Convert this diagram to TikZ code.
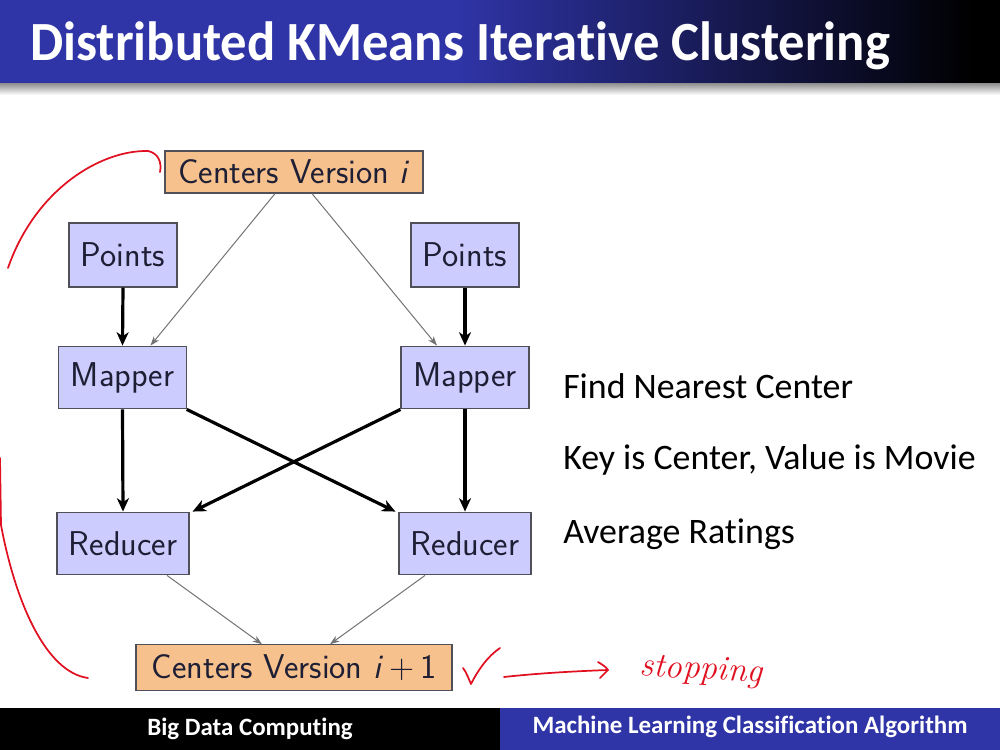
\documentclass[tikz,border=0pt]{standalone}
\usepackage{fontspec}
\newfontfamily\carlito[Ligatures=NoCommon]{Carlito}
\usetikzlibrary{arrows.meta,calc}
\definecolor{barblue}{HTML}{2F34A6}
\definecolor{boxblue}{HTML}{CCCCFF}
\definecolor{boxorange}{HTML}{F6C18D}
\definecolor{boxline}{HTML}{505058}
\definecolor{boxtext}{HTML}{1E1E34}
\definecolor{ink}{HTML}{E01020}
\begin{document}
\begin{tikzpicture}[x=0.75pt,y=-0.75pt,
  box/.style={draw=boxline,line width=0.9pt,fill=boxblue,inner sep=0pt,font=\sffamily\fontsize{25.8}{30}\selectfont,text=boxtext},
  cbox/.style={box,fill=boxorange},
  thin/.style={draw=black!55,line width=0.75pt,-{Stealth[length=7pt,width=5pt,inset=2pt]}},
  thick/.style={draw=black,line width=2.4pt,-{Stealth[length=10pt,width=9pt,inset=3pt]}},
  rtext/.style={anchor=west,inner sep=0pt,font=\carlito\fontsize{26.9}{32}\selectfont},
  foot/.style={text=white,inner sep=0pt,font=\carlito\bfseries\fontsize{18.7}{22}\selectfont},
  redpen/.style={draw=ink,line width=1.3pt,line cap=round,line join=round}]
\useasboundingbox (0,0) rectangle (1000,750);
% title bar
\fill[barblue] (0,0) rectangle (460,83);
\shade[left color=barblue,right color=black] (459,0) rectangle (975,83);
\fill[black] (974,0) rectangle (1000,83);
\shade[top color=black!45,bottom color=white] (0,83) rectangle (1000,95);
\node[anchor=base west,inner sep=0pt,text=white,yscale=1.05,font=\carlito\bfseries\fontsize{39.5}{46}\selectfont] (title) at (30,60) {Distributed KMeans Iterative Clustering};
% footer
\fill[black] (0,708) rectangle (500,750);
\fill[barblue] (500,708) rectangle (1000,750);
\node[foot] (f1) at (250,729) {Big Data Computing};
\node[foot] (f2) at (750,727) {Machine Learning Classification Algorithm};
% nodes
\node[cbox,minimum width=193.5pt,minimum height=31.5pt] (ci) at (294,172) {Centers Version \textit{i}};
\node[box,minimum width=81pt,minimum height=48pt] (pl) at (123,255) {Points};
\node[box,minimum width=81pt,minimum height=48pt] (pr) at (465,255) {Points};
\node[box,minimum width=95.5pt,minimum height=47pt] (ml) at (122.5,377.5) {Mapper};
\node[box,minimum width=96pt,minimum height=47pt] (mr) at (465,377.5) {Mapper};
\node[box,minimum width=99pt,minimum height=47pt] (rl) at (123,543.5) {Reducer};
\node[box,minimum width=99pt,minimum height=47pt] (rr) at (465,543.5) {Reducer};
\node[cbox,minimum width=237pt,minimum height=34pt] (c2) at (294,667.5) {Centers Version \textit{i}\,+\,1};
% connectors
\draw[thin] ($(ci.south)+(-19,0)$) -- ($(ml.north)+(28,0)$);
\draw[thin] ($(ci.south)+(18,0)$) -- ($(mr.north)+(-28,0)$);
\draw[thick] (pl.south) -- (ml.north);
\draw[thick] (pr.south) -- (mr.north);
\draw[thick] (ml.south) -- (rl.north);
\draw[thick] (mr.south) -- (rr.north);
\draw[thick] (ml.south east) -- ($(rr.north west)+(-3,0)$);
\draw[thick] (mr.south west) -- ($(rl.north east)+(3,0)$);
\draw[thin] ($(rl.south)+(44,0)$) -- ($(c2.north)+(-32,0)$);
\draw[thin] ($(rr.south)+(-40,0)$) -- ($(c2.north)+(36,0)$);
% right text
\node[rtext] (t1) at (563,386) {Find Nearest Center};
\node[rtext] (t2) at (563,460) {Key is Center, Value is Movie};
\node[rtext] (t3) at (563,534) {Average Ratings};
% handwritten annotations
\draw[redpen] (8,268) .. controls (35,190) and (100,150) .. (148,151) .. controls (158,153) and (162,162) .. (160,172);
\draw[redpen] (0,458) -- (1,525) .. controls (15,600) and (45,672) .. (88,678);
\draw[redpen] (463,668) .. controls (467,673) and (469,680) .. (471,684) .. controls (478,670) and (488,656) .. (500,648);
\coordinate (ah) at (608,670);
\draw[redpen] (504,677) .. controls (540,673) and (580,671) .. (ah);
\draw[redpen] (598,662) .. controls (603,665) and (606,667) .. (ah) .. controls (605,673) and (602,676) .. (600,678);
\node[text=ink,inner sep=0pt,anchor=west,font=\itshape\fontsize{26}{30}\selectfont,rotate=-3] (stop) at (640,668) {stopping};
\end{tikzpicture}
\end{document}
